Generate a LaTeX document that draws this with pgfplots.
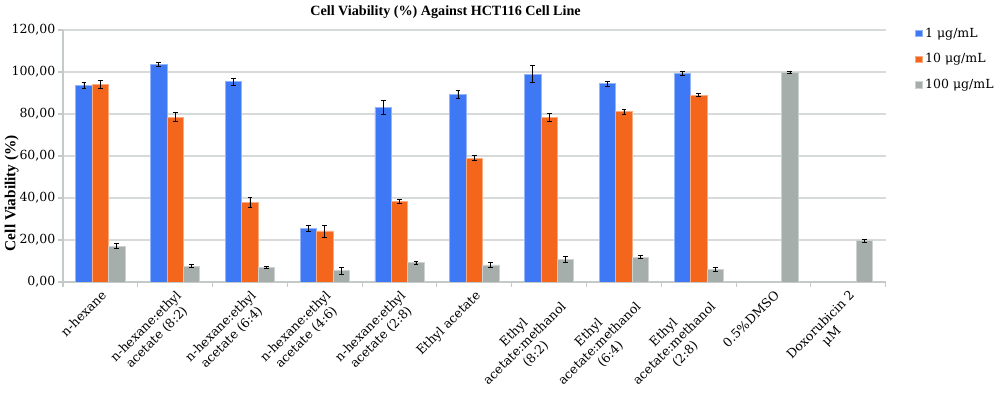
\documentclass[border=0pt]{standalone}
\usepackage{pgfplots}
\pgfplotsset{compat=1.18}
\usepackage{pgfplotstable}
\usepackage{fontspec}
\setmainfont{DejaVu Serif}
\newfontfamily\titlefont{Liberation Serif}
\definecolor{cblue}{HTML}{3F78F5}
\definecolor{corange}{HTML}{F4661B}
\definecolor{cgray}{HTML}{A5AEAB}
\definecolor{gridc}{HTML}{D6DAD9}
\definecolor{axc}{HTML}{C4CAC8}
\newcommand\tk{\fontsize{9.4}{11.5}\selectfont}

\pgfplotstableread{
x y e
0 93.5 1.5
1 103.8 1.0
2 95.3 1.8
3 25.6 1.6
4 83.2 3.3
5 89.3 2.0
6 99.0 4.0
7 94.4 1.3
8 99.2 0.9
}\blue
\pgfplotstableread{
x y e
0 94.2 1.8
1 78.5 2.2
2 38.0 2.3
3 24.3 2.8
4 38.5 1.0
5 58.9 1.2
6 78.2 1.9
7 81.2 1.2
8 89.0 0.8
}\orange
\pgfplotstableread{
x y e
0 17.1 1.3
1 7.6 0.6
2 7.0 0.6
3 5.3 1.6
4 9.1 0.9
5 8.1 1.1
6 10.9 1.5
7 11.9 0.8
8 6.0 0.8
9 99.7 0.5
10 19.6 0.8
}\gray

\begin{document}
\begin{tikzpicture}
\path[use as bounding box] (-47.25pt,-87.75pt) rectangle (702.75pt,211.5pt);
\begin{axis}[
  scale only axis, width=617pt, height=189pt,
  ybar=0pt, bar width=12.3pt,
  xmin=-0.5, xmax=10.5, ymin=0, ymax=120,
  ytick={0,20,...,120},
  yticklabels={{0,00},{20,00},{40,00},{60,00},{80,00},{100,00},{120,00}},
  xtick={0,...,10},
  minor xtick={-0.5,0.5,...,10.5},
  xticklabels={{n-hexane},{n-hexane:ethyl\\acetate (8:2)},{n-hexane:ethyl\\acetate (6:4)},{n-hexane:ethyl\\acetate (4:6)},{n-hexane:ethyl\\acetate (2:8)},{Ethyl acetate},{Ethyl\\acetate:methanol\\(8:2)},{Ethyl\\acetate:methanol\\(6:4)},{Ethyl\\acetate:methanol\\(2:8)},{0.5\%DMSO},{Doxorubicin 2\\μM}},
  x tick label style={rotate=45, anchor=north east, align=center, font=\tk, inner sep=1pt},
  y tick label style={font=\tk, inner sep=1.5pt},
  axis x line*=bottom, axis y line*=left,
  axis line style={axc, line width=0.8pt},
  major x tick style={draw=none},
  minor x tick style={axc, line width=0.8pt},
  ytick style={axc, line width=0.8pt},
  tick align=outside, major tick length=4pt, minor tick length=4pt,
  ymajorgrids, grid style={gridc, line width=0.8pt},
  title={\titlefont\bfseries\fontsize{10.6}{12}\selectfont Cell Viability (\%) Against HCT116 Cell Line},
  every axis title/.style={at={(axis description cs:0.465,1)}, anchor=center, yshift=13.5pt},
  ylabel={\titlefont\bfseries\fontsize{11.5}{13}\selectfont Cell Viability (\%)},
  every axis y label/.style={at={(axis description cs:-0.0624,0.353)}, anchor=center, rotate=90},
  legend style={draw=none, fill=none, at={(axis description cs:1,1)}, anchor=north west, xshift=22pt, yshift=3.75pt, font=\tk, row sep=6.75pt, inner sep=0pt},
  legend cell align=left,
  legend image code/.code={\fill[#1] (0pt,-2.4pt) rectangle (4.8pt,2.4pt);},
  error bars/y dir=both, error bars/y explicit,
  error bars/error bar style={black, line width=0.5pt},
  error bars/error mark options={rotate=90, black, mark size=1.8pt, line width=0.5pt},
]
\addplot[fill=cblue, draw=cblue!55!white, line width=0.6pt] table[x=x, y=y, y error=e] {\blue};
\addplot[fill=corange, draw=corange!55!white, line width=0.6pt] table[x=x, y=y, y error=e] {\orange};
\addplot[fill=cgray, draw=cgray!55!white, line width=0.6pt] table[x=x, y=y, y error=e] {\gray};
\legend{1 μg/mL, 10 μg/mL, 100 μg/mL}
\end{axis}
\end{tikzpicture}
\end{document}
